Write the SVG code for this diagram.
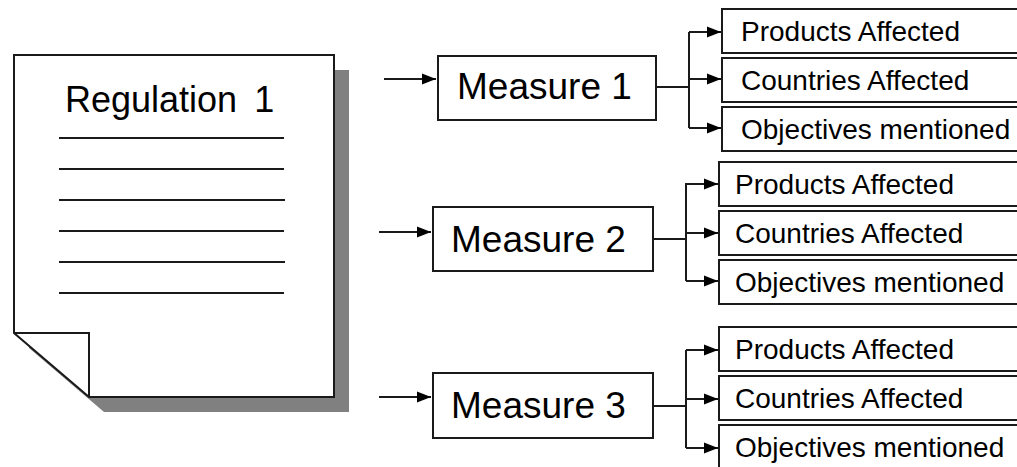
<svg xmlns="http://www.w3.org/2000/svg" width="1017" height="467" viewBox="0 0 1017 467">
<style>
text{font-family:"Liberation Sans",Arial,sans-serif;fill:#000}
.box{fill:#fff;stroke:#1a1a1a;stroke-width:2}
.ln{fill:none;stroke:#1a1a1a;stroke-width:2}
.rule{stroke:#1a1a1a;stroke-width:2}
.m{font-size:37px}
.t{font-size:28px}
</style>
<defs>
<marker id="ah" markerUnits="userSpaceOnUse" markerWidth="16" markerHeight="12" refX="14" refY="6" orient="auto">
<path d="M0,0.5 L14,6 L0,11.5 Z" fill="#000"/>
</marker>
</defs>
<g id="regulation">
<path d="M29,70 L349,70 L349,412 L104,412 L29,348 Z" fill="#808080"/>
<path d="M14,55 L334,55 L334,397 L89,397 L14,333 Z" class="box"/>
<path d="M14,333 L89,333 L89,397" class="ln"/>
<text x="65" y="112" font-size="36" word-spacing="7">Regulation 1</text>
<line class="rule" x1="59" y1="138" x2="284" y2="138"/>
<line class="rule" x1="59" y1="169" x2="284" y2="169"/>
<line class="rule" x1="59" y1="200" x2="285" y2="200"/>
<line class="rule" x1="59" y1="231" x2="284" y2="231"/>
<line class="rule" x1="59" y1="262" x2="285" y2="262"/>
<line class="rule" x1="59" y1="293" x2="284" y2="293"/>
</g>
<g id="measure1">
<rect class="box" x="438" y="56" width="218" height="64"/>
<text class="m" x="457" y="99">Measure 1</text>
</g>
<g id="measure2">
<rect class="box" x="433" y="207" width="220" height="64"/>
<text class="m" x="451" y="252">Measure 2</text>
</g>
<g id="measure3">
<rect class="box" x="433" y="373" width="220" height="65"/>
<text class="m" x="451" y="418">Measure 3</text>
</g>
<g id="m1-products"><rect class="box" x="722" y="9" width="310" height="44"/><text class="t" x="741" y="41">Products Affected</text></g>
<g id="m1-countries"><rect class="box" x="722" y="58" width="310" height="44"/><text class="t" x="741" y="90">Countries Affected</text></g>
<g id="m1-objectives"><rect class="box" x="722" y="107" width="310" height="44"/><text class="t" x="741" y="139">Objectives mentioned</text></g>
<g id="m2-products"><rect class="box" x="719" y="162" width="310" height="44"/><text class="t" x="735" y="194">Products Affected</text></g>
<g id="m2-countries"><rect class="box" x="719" y="211" width="310" height="44"/><text class="t" x="735" y="243">Countries Affected</text></g>
<g id="m2-objectives"><rect class="box" x="719" y="260" width="310" height="44"/><text class="t" x="735" y="292">Objectives mentioned</text></g>
<g id="m3-products"><rect class="box" x="719" y="327" width="310" height="44"/><text class="t" x="735" y="359">Products Affected</text></g>
<g id="m3-countries"><rect class="box" x="719" y="376" width="310" height="44"/><text class="t" x="735" y="408">Countries Affected</text></g>
<g id="m3-objectives"><rect class="box" x="719" y="425" width="310" height="44"/><text class="t" x="735" y="457">Objectives mentioned</text></g>
<g id="connectors">
<line class="ln" x1="384" y1="79" x2="436" y2="79" marker-end="url(#ah)"/>
<line class="ln" x1="379" y1="232" x2="431" y2="232" marker-end="url(#ah)"/>
<line class="ln" x1="379" y1="397" x2="431" y2="397" marker-end="url(#ah)"/>
<path class="ln" d="M656,87 L689,87 M689,32 L689,128"/>
<path class="ln" d="M689,32 L721,32" marker-end="url(#ah)"/>
<path class="ln" d="M689,79 L721,79" marker-end="url(#ah)"/>
<path class="ln" d="M689,128 L721,128" marker-end="url(#ah)"/>
<path class="ln" d="M653,239 L686,239 M686,183 L686,281"/>
<path class="ln" d="M686,184 L718,184" marker-end="url(#ah)"/>
<path class="ln" d="M686,233 L718,233" marker-end="url(#ah)"/>
<path class="ln" d="M686,281 L718,281" marker-end="url(#ah)"/>
<path class="ln" d="M653,406 L686,406 M686,350 L686,448"/>
<path class="ln" d="M686,350 L718,350" marker-end="url(#ah)"/>
<path class="ln" d="M686,399 L718,399" marker-end="url(#ah)"/>
<path class="ln" d="M686,448 L718,448" marker-end="url(#ah)"/>
</g>
</svg>
